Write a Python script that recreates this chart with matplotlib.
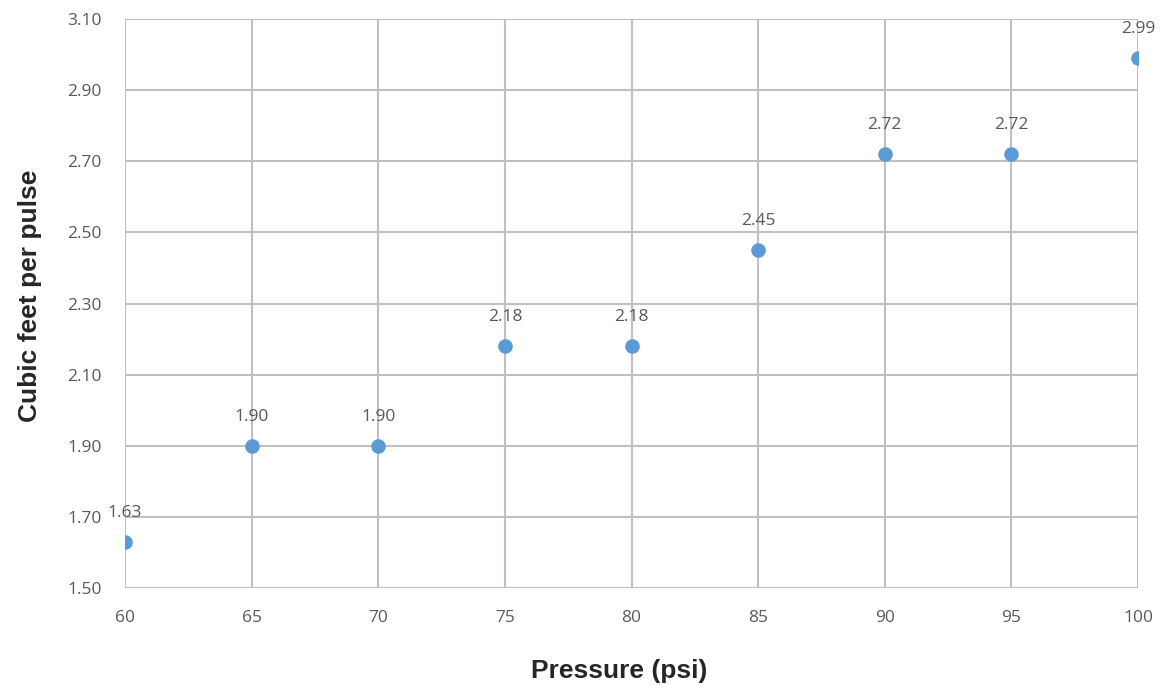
import matplotlib
matplotlib.use("Agg")
import matplotlib.pyplot as plt

pressure = [60, 65, 70, 75, 80, 85, 90, 95, 100]
cubic_feet = [1.63, 1.90, 1.90, 2.18, 2.18, 2.45, 2.72, 2.72, 2.99]
x_ticks = [60, 65, 70, 75, 80, 85, 90, 95, 100]
y_ticks = [1.50, 1.70, 1.90, 2.10, 2.30, 2.50, 2.70, 2.90, 3.10]

plt.rcParams['font.family'] = ['Open Sans', 'DejaVu Sans']

fig = plt.figure(figsize=(11.61, 6.88), dpi=100)
ax = fig.add_axes([0.1077, 0.1453, 0.8725, 0.8271])

ax.scatter(pressure, cubic_feet, s=110, color='#5b9bd5', zorder=3, linewidths=0)
for x, y in zip(pressure, cubic_feet):
    ax.annotate(f"{y:.2f}", (x, y), xytext=(0, 21), textcoords='offset points',
                ha='center', va='center', fontsize=12.5, color='#595959', zorder=4)

ax.set_xlim(60, 100)
ax.set_ylim(1.50, 3.10)
ax.set_xticks(x_ticks)
ax.set_yticks(y_ticks)
ax.set_yticklabels([f"{v:.2f}" for v in y_ticks])
ax.grid(True, color='#c0c0c0', linewidth=1.5)
ax.set_axisbelow(True)
for s in ax.spines.values():
    s.set_visible(False)
ax.tick_params(axis='both', length=0, labelsize=12.5, labelcolor='#595959')
ax.tick_params(axis='y', pad=17)
ax.tick_params(axis='x', pad=16)

ax.set_xlabel("Pressure (psi)", fontsize=19, fontweight='bold', color='#262626',
              family=['Liberation Sans', 'DejaVu Sans'], va='center')
ax.set_ylabel("Cubic feet per pulse", fontsize=19, fontweight='bold', color='#262626',
              family=['Liberation Sans', 'DejaVu Sans'], va='center')
ax.xaxis.set_label_coords(0.488, -0.145)
ax.yaxis.set_label_coords(-0.094, 0.514)

fig.savefig("out.png", dpi=100)
